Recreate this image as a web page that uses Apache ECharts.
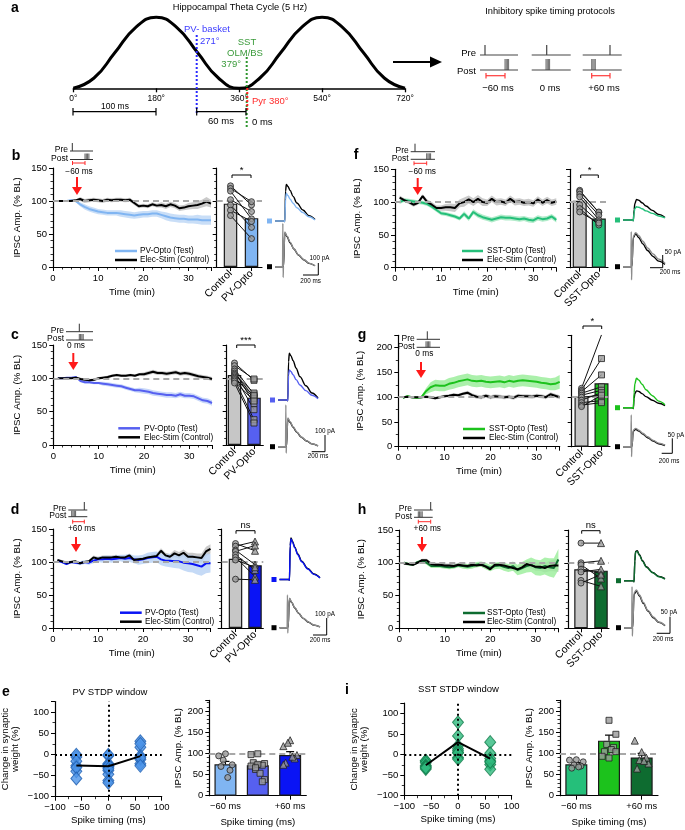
<!DOCTYPE html>
<html><head><meta charset="utf-8">
<script src="https://cdn.jsdelivr.net/npm/echarts@6.0.0/dist/echarts.min.js"></script>
<style>html,body{margin:0;padding:0;background:#fff;}#chart{width:685px;height:830px;}</style>
</head><body><div id="chart"></div>
<script>
// ================= DATA =================
const timeMin = [1,2,3,4,5,6,7,8,9,10,11,12,13,14,15,16,17,18,19,20,21,22,23,24,25,26,27,28,29,30,31,32,33,34,35];

const bTest    = [100,100,100,101,100,95,91,88,86,84,83,82,82,82,81,80,79,78,79,80,80,81,81,79,77,75,74,73,73,72,72,72,71,71,71];
const bTestSem = [1,1,1,1,2,3,4,4,4,4,4,4,4,4,5,5,5,5,5,5,5,5,5,5,6,6,6,6,6,6,6,7,7,7,7];
const bCtl     = [100,100,100,100,101,103,100,101,102,101,100,102,101,102,102,101,102,97,92,93,92,95,93,94,92,95,93,89,90,92,93,94,96,99,96];
const bCtlSem  = [1,1,1,1,1,3,3,3,3,3,3,3,3,3,3,3,3,3,3,3,3,3,3,4,4,4,4,4,4,5,5,6,6,7,6];

const cTest    = [100,100,101,101,102,96,94,94,93,93,92,91,90,89,88,86,84,82,82,81,80,78,77,76,75,75,74,76,74,74,73,70,67,66,63];
const cTestSem = [1,1,1,1,1,2,2,2,2,2,3,3,3,3,3,3,3,3,4,4,4,4,4,4,4,4,4,4,4,4,4,4,4,4,4];
const cCtl     = [100,100,100,100,101,99,98,97,98,100,101,102,104,105,104,104,105,104,106,106,108,110,108,108,107,108,109,107,108,107,105,103,102,101,99];
const cCtlSem  = [1,1,1,1,1,2,2,2,2,2,2,2,2,2,2,2,2,2,2,3,3,3,3,3,3,3,3,3,3,3,3,3,3,3,3];

const dTest    = [102,100,97,100,99,98,100,99,102,104,104,105,104,105,106,105,106,104,103,104,106,107,108,104,102,102,101,101,99,98,97,95,93,98,98];
const dTestSem = [2,2,2,2,2,3,3,3,4,4,5,5,5,5,5,6,6,6,7,7,8,8,8,9,9,10,10,11,12,13,13,14,14,15,14];
const dCtl     = [103,101,99,100,101,98,100,101,107,105,107,107,107,108,107,107,110,103,104,105,107,108,109,117,110,108,113,110,114,108,108,107,106,116,120];
const dCtlSem  = [2,2,2,2,2,2,2,2,3,3,3,3,3,3,3,3,3,3,3,3,3,4,4,4,4,4,5,5,5,6,6,6,7,7,7];

const fTest    = [100,103,102,101,100,99,97,93,88,83,82,80,78,75,82,75,85,80,77,75,73,75,77,76,76,75,74,75,73,72,76,74,75,78,73];
const fTestSem = [3,3,3,3,3,3,3,3,3,3,3,3,3,3,4,4,4,4,4,4,4,4,4,4,4,4,4,4,4,4,4,4,4,4,4];
const fCtl     = [107,103,100,96,99,109,100,96,91,91,92,92,91,98,100,104,100,105,100,99,105,100,101,99,105,100,101,99,100,98,104,99,103,99,101];
const fCtlSem  = [3,3,3,3,3,3,4,4,4,4,5,6,6,6,7,6,6,6,6,5,5,5,5,5,5,5,5,5,5,5,5,5,5,5,5];

const gTest    = [99,102,100,99,100,112,120,124,123,123,127,129,132,134,136,133,132,133,131,130,131,132,130,133,131,133,134,133,132,131,129,128,126,127,131];
const gTestSem = [2,2,2,2,2,6,10,11,11,11,12,12,12,12,12,12,12,12,12,12,12,12,12,12,12,12,12,12,12,12,12,12,12,13,14];
const gCtl     = [100,101,100,100,100,101,100,98,100,102,103,105,104,107,109,104,101,100,103,100,102,101,100,101,99,103,102,102,101,103,102,100,106,103,100];
const gCtlSem  = [2,2,2,2,2,3,3,3,3,3,3,3,3,3,4,4,4,4,4,4,4,4,4,4,4,4,4,4,4,4,4,4,4,4,4];

const hTest    = [100,98,97,101,103,100,95,95,95,94,93,94,96,95,94,95,97,98,95,92,95,96,94,92,95,89,92,95,97,93,92,95,93,92,105];
const hTestSem = [2,2,2,2,2,3,3,3,3,3,3,3,3,4,4,4,4,4,5,5,5,5,6,6,7,8,9,10,11,12,12,13,14,15,16];
const hCtl     = [99,98,97,100,104,104,98,97,97,96,96,95,97,96,95,97,96,97,94,90,97,97,96,94,92,90,93,98,96,94,94,92,95,96,96];
const hCtlSem  = [2,2,2,2,2,2,3,3,3,3,3,3,3,3,3,3,3,3,3,3,3,3,3,3,4,4,4,5,5,6,6,7,8,9,10];

// paired cell values (% BL) and bar heights
const bBars = [96,74];  const bCtlPts = [123,119,115,102,94,86,78];  const bOptoPts = [94,99,73,84,60,69,43];
const cBars = [105,71]; const cCtlPts = [123,119,114,111,108,106,104,102,100,98,96,93]; const cOptoPts = [97,99,76,62,72,78,53,70,74,38,66,33];
const dBars = [105,95]; const dCtlPts = [128,124,118,116,111,107,103,74]; const dOptoPts = [117,131,96,125,88,78,92,73];
const fBars = [102,75]; const fCtlPts = [118,116,112,108,96,90,85]; const fOptoPts = [84,85,80,73,70,65,68];
const gBars = [101,128]; const gCtlPts = [118,114,111,108,104,100,94,89,84,81]; const gOptoPts = [226,178,145,121,114,104,109,93,89,104];
const hBars = [90,88];  const hCtlPts = [130,100,97,90,86,73,69]; const hOptoPts = [130,103,76,84,90,64,82];

// STDP summary
const stdpTiming = [-60,0,60];
const stdpLabels = ['\u221260 ms','0 ms','+60 ms'];
const eBars = [74,72,96]; const eSem = [7,6,8];
const iBars = [74,130,90]; const iSem = [4,13,10];

// theta cycle schematic
const thetaDeg = [0,45,90,135,180,225,270,315,360,405,450,495,540,585,630,675,720];
const thetaAmp = [-1,-0.71,0,0.71,1,0.71,0,-0.71,-1,-0.71,0,0.71,1,0.71,0,-0.71,-1];

// example IPSC traces (ms, pA)
const traceTopT = [0,120,130,140,150,170,200,240,290,370,450,530];
const traceBotT = [0,100,104,108,112,130,160,200,250,310,380,450,530];
const bTopCtl=[0,0,-5,250,305,290,255,205,150,92,45,12], bTopTest=[0,0,-5,180,230,212,182,148,110,70,35,8];
const bBotGrey=[0,0,360,-90,0,290,255,205,150,100,60,30,8], bBotBlack=[0,0,0,0,0,282,250,200,148,98,58,28,8];
const cTopCtl=[0,0,-5,230,280,266,236,190,140,85,42,12], cTopTest=[0,0,-5,150,180,171,151,122,90,56,28,8];
const cBotGrey=[0,0,250,-38,0,172,150,120,88,58,35,18,5], cBotBlack=[0,0,0,0,0,166,146,116,86,56,34,17,5];
const dTopCtl=[0,0,-5,200,245,226,190,150,108,65,32,10], dTopTest=[0,0,-5,195,238,220,186,146,104,62,30,9];
const dBotGrey=[0,0,193,-31,0,173,150,118,86,56,33,16,5], dBotBlack=[0,0,0,0,0,170,148,116,85,55,32,15,5];
const fTopCtl=[0,0,-3,40,65,81,78,68,55,38,22,10], fTopTest=[0,0,-3,30,45,52,50,44,36,26,16,8];
const fBotGrey=[0,0,138,-52,0,120,134,122,100,74,50,30,14], fBotBlack=[0,0,0,0,0,114,130,114,90,64,40,22,9];
const gTopCtl=[0,0,-3,30,48,56,54,47,37,25,15,7], gTopTest=[0,0,-3,50,80,98,92,78,60,40,22,10];
const gBotGrey=[0,0,106,-33,0,55,61,55,45,33,21,12,5], gBotBlack=[0,0,0,0,0,52,58,52,42,30,19,10,4];
const hTopCtl=[0,0,-3,60,88,90,78,60,42,25,13,6], hTopTest=[0,0,-3,58,86,88,76,58,40,24,12,5];
const hBotGrey=[0,0,123,-25,0,105,113,98,76,52,32,17,7], hBotBlack=[0,0,0,0,0,100,110,95,73,50,30,16,6];

// ================= LAYOUT / STYLE =================
const FONT = '"Liberation Sans", Arial, Helvetica, sans-serif';
const LAY = {
  b:{x0:53,x35:211,yTop:168,y0:267,ymax:150,ng:31, bar:{ax:216.7,c0:230.5,c1:251.5,end:262,w:13.5}, tr:{x0:275,x1:315,top:221,bot:266.7,k:0.12}},
  c:{x0:53.3,x35:212,yTop:345,y0:445,ymax:150,ng:31, bar:{ax:226.7,c0:234.5,c1:254,end:263.3,w:13.5}, tr:{x0:278,x1:318,top:400,bot:446.7,k:0.167}},
  d:{x0:53,x35:210.5,yTop:529,y0:628,ymax:150,ng:31, bar:{ax:221.7,c0:235.5,c1:255,end:263.3,w:13.5}, tr:{x0:279.5,x1:320,top:579.5,bot:627.7,k:0.17}},
  f:{x0:395,x35:556.3,yTop:169.3,y0:267.7,ymax:150,ng:33, bar:{ax:570,c0:579.7,c1:598.8,end:608,w:14}, tr:{x0:623,x1:665,top:220,bot:266.7,k:0.254}},
  g:{x0:398.3,x35:559.7,yTop:335.3,y0:446.7,ymax:225,ng:33, bar:{ax:571.7,c0:581.5,c1:601.5,end:610,w:14}, tr:{x0:623,x1:665,top:407.7,bot:446.7,k:0.3}},
  h:{x0:399.3,x35:558.4,yTop:530,y0:628.3,ymax:150,ng:33, bar:{ax:568.3,c0:581,c1:601,end:609,w:13.5}, tr:{x0:624,x1:665,top:580.7,bot:627.7,k:0.333}}
};

const grids=[], xAxes=[], yAxes=[], series=[], graphics=[];
function deepMerge(a,b){for(const k in b){const v=b[k];if(v&&typeof v==='object'&&!Array.isArray(v)){a[k]=deepMerge(a[k]&&typeof a[k]==='object'?a[k]:{},v);}else a[k]=v;}return a;}
const AX = {
  axisLine:{show:true,onZero:false,lineStyle:{color:'#000',width:1.2}},
  axisTick:{show:true,length:4,lineStyle:{color:'#000',width:1}},
  minorTick:{show:true,length:2.5,lineStyle:{color:'#000',width:0.8}},
  axisLabel:{color:'#000',fontSize:9.5,fontFamily:FONT,margin:6},
  splitLine:{show:false}, minorSplitLine:{show:false},
  nameTextStyle:{color:'#000',fontSize:9.7,fontFamily:FONT}
};
function ax(extra){return deepMerge(JSON.parse(JSON.stringify(AX)),extra);}
function addGrid(left,top,width,height){grids.push({left,top,width,height,containLabel:false,outerBoundsMode:'none'});return grids.length-1;}
function addX(o){xAxes.push(o);return xAxes.length-1;}
function addY(o){yAxes.push(o);return yAxes.length-1;}
function hiddenAx(gi,min,max){return {type:'value',gridIndex:gi,min,max,show:false,splitLine:{show:false}};}
const minus = v => String(v).replace('-','\u2212');
const dash100 = {silent:true,symbol:'none',label:{show:false},lineStyle:{color:'#a8a8a8',type:[6,4],width:1.8},data:[{yAxis:100}]};

// ---------- graphics helpers ----------
function gText(x,y,text,size,o={}){graphics.push({type:'text',x,y,z:100,silent:true,style:{text,fill:o.color||'#000',font:(o.bold?'bold ':'')+size+'px '+FONT,textAlign:o.align||'center',textVerticalAlign:'middle'}});}
function gLine(x1,y1,x2,y2,color,w,dash){graphics.push({type:'line',z:100,silent:true,shape:{x1,y1,x2,y2},style:{stroke:color||'#000',lineWidth:w||1,lineDash:dash||null}});}
function gPoly(points,color){graphics.push({type:'polygon',z:100,silent:true,shape:{points},style:{fill:color}});}
function gRect(x,y,w,h,color){graphics.push({type:'rect',z:100,silent:true,shape:{x,y,width:w,height:h},style:{fill:color}});}
function arrowDown(x,y1,y2){gLine(x,y1,x,y2-6,'#ff1a1a',2);gPoly([[x-5,y2-8],[x+5,y2-8],[x,y2]],'#ff1a1a');}
function sig(x1,x2,y,label){gLine(x1,y,x2,y,'#000',1);gLine(x1,y,x1,y+3,'#000',1);gLine(x2,y,x2,y+3,'#000',1);gText((x1+x2)/2,y-5,label,9.5);}
function legend(x0,x1,y1,y2,tx,name,color){gLine(x0,y1,x1,y1,color,2.5);gText(tx,y1,name,8.2,{align:'left'});gLine(x0,y2,x1,y2,'#000',2.5);gText(tx,y2,'Elec-Stim (Control)',8.2,{align:'left'});}
function mini(o){
  gText(o.lx0-2,o.preY-1,'Pre',8.5,{align:'right'});
  gText(o.lx0-2,o.postY-1,'Post',8.5,{align:'right'});
  gLine(o.lx0,o.preY,o.lx1,o.preY,'#333',1);
  gLine(o.lx0,o.postY,o.lx1,o.postY,'#333',1);
  gLine(o.preX,o.preY-8,o.preX,o.preY,'#333',1);
  for(let k=0;k<4;k++) gLine(o.postX+k*1.3,o.postY-6,o.postX+k*1.3,o.postY,'#333',0.8);
  if(o.red){gLine(o.red[0],o.redY,o.red[1],o.redY,'#ff2a2a',1);gLine(o.red[0],o.redY-2,o.red[0],o.redY+2,'#ff2a2a',1);gLine(o.red[1],o.redY-2,o.red[1],o.redY+2,'#ff2a2a',1);}
  gText(o.labX,o.labY,o.label,8.3);
}
function scaleBar(cx,cy,vTop,hLeft,vl,vlx,vly,hlx,hly){gLine(cx,vTop,cx,cy,'#000',1);gLine(hLeft,cy,cx,cy,'#000',1);gText(vlx,vly,vl,6.3);gText(hlx,hly,'200 ms',6.3);}

// ---------- chart builders ----------
function tcPanel(key,test,testSem,ctl,ctlSem,testColor,bandColor){
  const p=LAY[key];
  const gi=addGrid(p.x0,p.yTop,p.x35-p.x0,p.y0-p.yTop);
  const xi=addX(ax({type:'value',gridIndex:gi,min:0,max:35,interval:10,name:'Time (min)',nameLocation:'middle',nameGap:20,axisLabel:{showMaxLabel:false},minorTick:{splitNumber:5}}));
  const yi=addY(ax({type:'value',gridIndex:gi,min:0,max:p.ymax,interval:50,name:'IPSC Amp. (% BL)',nameLocation:'middle',nameGap:p.ng,axisLabel:{showMaxLabel:p.ymax===150},minorTick:{splitNumber:p.ymax===150?5:2}}));
  const base={type:'line',xAxisIndex:xi,yAxisIndex:yi,symbol:'none',silent:true};
  function band(mean,sem,color){
    const n=mean.length;
    series.push({type:'custom',xAxisIndex:xi,yAxisIndex:yi,silent:true,z:1,encode:{x:0,y:[1,2]},
      data:timeMin.map((t,i)=>[t,mean[i]-sem[i],mean[i]+sem[i]]),
      renderItem:(params,api)=>{
        if(params.dataIndexInside!==0) return null;
        const up=[],lo=[];
        for(let j=0;j<n;j++){up.push(api.coord([api.value(0,j),api.value(2,j)]));lo.push(api.coord([api.value(0,j),api.value(1,j)]));}
        return {type:'polygon',shape:{points:up.concat(lo.reverse())},style:{fill:color,opacity:0.8}};
      }});
  }
  band(ctl,ctlSem,'#bdbdbd');
  band(test,testSem,bandColor);
  series.push(Object.assign({},base,{data:[],markLine:dash100,z:2}));
  series.push(Object.assign({},base,{data:timeMin.map((t,i)=>[t,test[i]]),lineStyle:{color:testColor,width:2},z:3}));
  series.push(Object.assign({},base,{data:timeMin.map((t,i)=>[t,ctl[i]]),lineStyle:{color:'#000',width:2},z:4}));
}
function barPanel(key,bars,ctlPts,optoPts,optoName,optoColor,optoSym){
  const p=LAY[key],b=p.bar,u=b.c1-b.c0;
  const gi=addGrid(b.ax,p.yTop,b.end-b.ax,p.y0-p.yTop);
  const xi=addX(ax({type:'value',gridIndex:gi,min:(b.ax-b.c0)/u,max:(b.end-b.c0)/u,axisTick:{customValues:[0,1]},minorTick:{show:false},axisLabel:{customValues:[0,1],rotate:45,margin:5,fontSize:10.5,formatter:v=>v===0?'Control':optoName}}));
  const yi=addY(ax({type:'value',gridIndex:gi,min:0,max:p.ymax,interval:50,axisLabel:{show:false},minorTick:{splitNumber:p.ymax===150?5:2}}));
  series.push({type:'bar',xAxisIndex:xi,yAxisIndex:yi,barWidth:b.w,silent:true,data:[{value:[0,bars[0]],itemStyle:{color:'#c6c6c6'}},{value:[1,bars[1]],itemStyle:{color:optoColor}}],itemStyle:{borderColor:'#1a1a1a',borderWidth:1.2},z:2});
  series.push({type:'line',xAxisIndex:xi,yAxisIndex:yi,data:[],symbol:'none',markLine:dash100,z:3});
  ctlPts.forEach((v,i)=>series.push({type:'line',xAxisIndex:xi,yAxisIndex:yi,symbol:'none',silent:true,data:[[0,v],[1,optoPts[i]]],lineStyle:{color:'#111',width:1},z:5}));
  series.push({type:'scatter',xAxisIndex:xi,yAxisIndex:yi,silent:true,symbol:'circle',symbolSize:6,data:ctlPts.map(v=>[0,v]),itemStyle:{color:'#9a9a9a',borderColor:'#222',borderWidth:1},z:6});
  series.push({type:'scatter',xAxisIndex:xi,yAxisIndex:yi,silent:true,symbol:optoSym,symbolSize:optoSym==='triangle'?7:6,data:optoPts.map(v=>[1,v]),itemStyle:{color:'#9a9a9a',borderColor:'#222',borderWidth:1},z:6});
}
function traceGrid(x0,x1,baseY,k,T,arrs,colors){
  const all=[].concat(...arrs);const mn=Math.min(0,...all),mx=Math.max(...all);
  const gi=addGrid(x0,baseY-mx*k,x1-x0,(mx-mn)*k);
  const xi=addX(hiddenAx(gi,0,T[T.length-1]));const yi=addY(hiddenAx(gi,mn,mx));
  arrs.forEach((a,j)=>series.push({type:'line',xAxisIndex:xi,yAxisIndex:yi,symbol:'none',silent:true,clip:false,smooth:0.35,smoothMonotone:'x',data:T.map((t,i)=>[t,a[i]]),lineStyle:{color:colors[j],width:1.4},z:3}));
}
function traces(key,topCtl,topTest,botGrey,botBlack,testColor){
  const t=LAY[key].tr;
  traceGrid(t.x0,t.x1,t.top,t.k,traceTopT,[topCtl,topTest],['#000',testColor]);
  traceGrid(t.x0,t.x1,t.bot,t.k,traceBotT,[botBlack,botGrey],['#000','#8c8c8c']);
  gRect(t.x0-8,t.top-2.5,5,5,testColor);gRect(t.x0-8,t.bot-2.5,5,5,'#000');
}
function stdpScatter(g,groups,bars,color,border){
  const gi=addGrid(g.left,g.top,g.w,g.h);
  const xi=addX(ax({type:'value',gridIndex:gi,min:-100,max:100,interval:50,name:'Spike timing (ms)',nameLocation:'middle',nameGap:19,minorTick:{splitNumber:2},axisLabel:{formatter:minus}}));
  const yi=addY(ax({type:'value',gridIndex:gi,min:-100,max:125,interval:50,name:'Change in synaptic\nweight (%)',nameLocation:'middle',nameGap:g.ng,minorTick:{splitNumber:2},axisLabel:{showMaxLabel:false,formatter:minus}}));
  series.push({type:'line',xAxisIndex:xi,yAxisIndex:yi,data:[],symbol:'none',z:2,markLine:{silent:true,symbol:'none',label:{show:false},lineStyle:{color:'#000',type:[2,3],width:2},data:[{yAxis:0},{xAxis:0}]}});
  const pts=[];groups.forEach((arr,k)=>arr.forEach(v=>pts.push([stdpTiming[k],v-100])));
  series.push({type:'scatter',xAxisIndex:xi,yAxisIndex:yi,silent:true,symbol:'diamond',symbolSize:[11,13],data:pts,itemStyle:{color,borderColor:border,borderWidth:1},z:4});
  series.push({type:'line',xAxisIndex:xi,yAxisIndex:yi,silent:true,symbol:'none',data:bars.map((b,k)=>[stdpTiming[k],b-100]),lineStyle:{color:'#000',width:2},z:5});
}
function stdpBars(g,bars,sems,groups,colors){
  const gi=addGrid(g.left,g.top,g.w,g.h);
  const xc=addX(ax({type:'category',gridIndex:gi,data:stdpLabels,name:'Spike timing (ms)',nameLocation:'middle',nameGap:22,axisTick:{alignWithLabel:true},minorTick:{show:false},axisLabel:{fontSize:9.3}}));
  const xv=addX(hiddenAx(gi,-0.5,2.5));
  const yi=addY(ax({type:'value',gridIndex:gi,min:0,max:225,interval:50,name:'IPSC Amp. (% BL)',nameLocation:'middle',nameGap:g.ng,axisLabel:{showMaxLabel:false},minorTick:{splitNumber:5}}));
  series.push({type:'bar',xAxisIndex:xc,yAxisIndex:yi,barWidth:22,silent:true,data:bars.map((v,k)=>({value:v,itemStyle:{color:colors[k]}})),itemStyle:{borderColor:'#1a1a1a',borderWidth:1.2},z:2});
  series.push({type:'line',xAxisIndex:xv,yAxisIndex:yi,data:[],symbol:'none',markLine:dash100,z:3});
  series.push({type:'custom',xAxisIndex:xv,yAxisIndex:yi,silent:true,z:4,data:bars.map((b,k)=>[k,b,b+sems[k]]),
    renderItem:(params,api)=>{const x=api.value(0);const lo=api.coord([x,api.value(1)]),hi=api.coord([x,api.value(2)]);
      return {type:'group',children:[{type:'line',shape:{x1:lo[0],y1:lo[1],x2:hi[0],y2:hi[1]},style:{stroke:'#000',lineWidth:1.2}},{type:'line',shape:{x1:hi[0]-4,y1:hi[1],x2:hi[0]+4,y2:hi[1]},style:{stroke:'#000',lineWidth:1.2}}]};}});
  const syms=['circle','rect','triangle'];
  groups.forEach((arr,k)=>series.push({type:'scatter',xAxisIndex:xv,yAxisIndex:yi,silent:true,symbol:syms[k],symbolSize:k===2?7:6,
    data:arr.map((v,i)=>[k+(((i*3)%7)-3)*0.07,v]),itemStyle:{color:'#9a9a9a',borderColor:'#222',borderWidth:1},z:5}));
}

// ================= PANEL a =================
gText(15,8,'a',14,{bold:true});
gText(240,7,'Hippocampal Theta Cycle (5 Hz)',9.3);
{
  const gi=addGrid(73.3,17.3,331.7,71);
  const xi=addX(ax({type:'value',gridIndex:gi,min:0,max:720,interval:180,minorTick:{show:false},axisLine:{lineStyle:{width:1.5}},axisTick:{length:4,lineStyle:{width:1.3}},axisLabel:{fontSize:8.5,margin:6,formatter:v=>v+'\u00b0'}}));
  const yi=addY(hiddenAx(gi,-1,1));
  series.push({type:'line',xAxisIndex:xi,yAxisIndex:yi,symbol:'none',silent:true,clip:false,smooth:0.5,data:thetaDeg.map((d,i)=>[d,thetaAmp[i]]),lineStyle:{color:'#000',width:3},z:3});
}
gLine(196.7,35,196.7,113,'#2a2aff',2,[2,2]);
gText(184,29,'PV- basket',9.5,{align:'left',color:'#3b3bff'});
gText(200,41,'271\u00b0',9.5,{align:'left',color:'#3b3bff'});
gLine(246.7,57,246.7,127,'#2e962e',2,[2,2]);
gText(247,42,'SST',9.5,{color:'#3a9a3a'});
gText(245,53,'OLM/BS',9.5,{color:'#3a9a3a'});
gText(241,64,'379\u00b0',9.5,{align:'right',color:'#3a9a3a'});
gLine(247.3,88,247.3,110,'#ff2020',2,[2,2]);
gText(252,101,'Pyr 380\u00b0',9.5,{align:'left',color:'#ff2b2b'});
gText(252,122,'0 ms',9.5,{align:'left'});
gLine(73,111.7,156,111.7,'#000',1.2);gLine(73,108,73,115.5,'#000',1.2);gLine(156,108,156,115.5,'#000',1.2);
gText(115,106.5,'100 ms',8.5);
gLine(196.7,111.7,246,111.7,'#000',1.2);gLine(196.7,108,196.7,115.5,'#000',1.2);gLine(246,108,246,115.5,'#000',1.2);
gText(221,121,'60 ms',9.5);
gLine(393,62,432,62,'#000',2.2);gPoly([[430,56.5],[442,62],[430,67.5]],'#000');
gText(550,11,'Inhibitory spike timing protocols',9.3);
gText(476,53,'Pre',9.5,{align:'right'});gText(476,71,'Post',9.5,{align:'right'});
[[480,518,485,505,[486,505],498,'\u221260 ms'],[531.7,570.7,546.7,546,null,550,'0 ms'],[582.7,621.7,610,591.7,[591.7,610],604,'+60 ms']].forEach(s=>{
  gLine(s[0],55,s[1],55,'#444',1.2);gLine(s[0],70,s[1],70,'#444',1.2);
  gLine(s[2],45,s[2],55,'#444',1.2);
  for(let k=0;k<4;k++)gLine(s[3]+k*1.2,59,s[3]+k*1.2,70,'#444',0.8);
  if(s[4]){gLine(s[4][0],75.7,s[4][1],75.7,'#ff3a3a',1.2);gLine(s[4][0],73,s[4][0],78.5,'#ff3a3a',1.2);gLine(s[4][1],73,s[4][1],78.5,'#ff3a3a',1.2);}
  gText(s[5],88,s[6],9.5);
});

// ================= PANELS b-d, f-h =================
const PV1='#80b5f2', PV2='#5660f0', PV3='#0a14f5', SST1='#25bf7a', SST2='#1cc21c', SST3='#0e6c30';
tcPanel('b',bTest,bTestSem,bCtl,bCtlSem,PV1,'#bcd6f5');
tcPanel('c',cTest,cTestSem,cCtl,cCtlSem,PV2,'#bccef7');
tcPanel('d',dTest,dTestSem,dCtl,dCtlSem,PV3,'#b6d1f4');
tcPanel('f',fTest,fTestSem,fCtl,fCtlSem,SST1,'#9fe6bd');
tcPanel('g',gTest,gTestSem,gCtl,gCtlSem,SST2,'#96ec96');
tcPanel('h',hTest,hTestSem,hCtl,hCtlSem,SST3,'#98ee98');
barPanel('b',bBars,bCtlPts,bOptoPts,'PV-Opto',PV1,'circle');
barPanel('c',cBars,cCtlPts,cOptoPts,'PV-Opto',PV2,'rect');
barPanel('d',dBars,dCtlPts,dOptoPts,'PV-Opto',PV3,'triangle');
barPanel('f',fBars,fCtlPts,fOptoPts,'SST-Opto',SST1,'circle');
barPanel('g',gBars,gCtlPts,gOptoPts,'SST-Opto',SST2,'rect');
barPanel('h',hBars,hCtlPts,hOptoPts,'SST-Opto',SST3,'triangle');
traces('b',bTopCtl,bTopTest,bBotGrey,bBotBlack,PV1);
traces('c',cTopCtl,cTopTest,cBotGrey,cBotBlack,PV2);
traces('d',dTopCtl,dTopTest,dBotGrey,dBotBlack,PV3);
traces('f',fTopCtl,fTopTest,fBotGrey,fBotBlack,SST1);
traces('g',gTopCtl,gTopTest,gBotGrey,gBotBlack,SST2);
traces('h',hTopCtl,hTopTest,hBotGrey,hBotBlack,SST3);

gText(16,156,'b',14,{bold:true}); gText(15,335,'c',14,{bold:true}); gText(15,510,'d',14,{bold:true});
gText(356,155,'f',14,{bold:true}); gText(362,335,'g',14,{bold:true}); gText(362,510,'h',14,{bold:true});
gText(6,692,'e',14,{bold:true}); gText(347,690,'i',14,{bold:true});

mini({lx0:70,lx1:93,preY:151,postY:159.5,preX:72.3,postX:85,red:[72.5,85],redY:163,label:'\u221260 ms',labX:79,labY:172});
mini({lx0:66,lx1:93,preY:331.7,postY:340,preX:79.3,postX:79.3,label:'0 ms',labX:76,labY:345.5});
mini({lx0:68.3,lx1:87.3,preY:510,postY:516.7,preX:84.3,postX:71.7,red:[72.7,84.3],redY:521.7,label:'+60 ms',labX:81.7,labY:528.3});
mini({lx0:410.7,lx1:435,preY:151.7,postY:159.3,preX:415,postX:426.7,red:[414,426.7],redY:163.3,label:'\u221260 ms',labX:422.3,labY:171.7});
mini({lx0:416.7,lx1:440,preY:339.3,postY:347.3,preX:427.3,postX:426,label:'0 ms',labX:424.3,labY:353.3});
mini({lx0:414,lx1:432.7,preY:510,postY:517.3,preX:430.7,postX:418.3,red:[418.3,430.7],redY:521.7,label:'+60 ms',labX:427.3,labY:528.3});

arrowDown(77,177,195); arrowDown(73.3,353,370); arrowDown(76,537,552);
arrowDown(417.7,178,195); arrowDown(421,362,378); arrowDown(422,537,552);

legend(115,137,251,260,140,'PV-Opto (Test)',PV1);
legend(118.3,140,428.3,437.3,144,'PV-Opto (Test)',PV2);
legend(120,141.7,612.7,621.7,145,'PV-Opto (Test)',PV3);
legend(462,483,251,260,487,'SST-Opto (Test)',SST1);
legend(463,485,429,438,489,'SST-Opto (Test)',SST2);
legend(463,485,613,622,487,'SST-Opto (Test)',SST3);

sig(232,251,175,'*'); sig(236.7,255,345,'***'); sig(236,255,530.7,'ns');
sig(580.7,598.3,175,'*'); sig(583,601.7,326,'*'); sig(581.7,600,530.7,'ns');

scaleBar(318.3,275,263,303,'100 pA',319.5,258,310.5,281);
scaleBar(325,451.7,435,311.7,'100 pA',325,431,318,456);
scaleBar(326.7,635,618,313,'100 pA',325,614,320,640);
scaleBar(662.7,267.7,255,650,'50 pA',673,252,670,272.5);
scaleBar(672.3,453.3,438.3,661.7,'50 pA',676,435,669,461);
scaleBar(670,633.3,616.7,656.7,'50 pA',669,612,663,639);

// ================= PANELS e, i =================
gText(110,692,'PV STDP window',9.5);
gText(458.5,689,'SST STDP window',9.5);
stdpScatter({left:55,top:701.5,w:106.7,h:95.2,ng:35},[bOptoPts,cOptoPts,dOptoPts],eBars,'#4b93e8','#1f5fb0');
stdpBars({left:209.3,top:700.4,w:97,h:95.3,ng:26},eBars,eSem,[bOptoPts,cOptoPts,dOptoPts],[PV1,PV2,PV3]);
stdpScatter({left:404.3,top:703,w:107.4,h:92.7,ng:35},[fOptoPts,gOptoPts,hOptoPts],iBars,'#2fba7e','#127a4a');
stdpBars({left:560,top:700.4,w:98,h:95.3,ng:26},iBars,iSem,[fOptoPts,gOptoPts,hOptoPts],[SST1,SST2,SST3]);

// ================= RENDER =================
const chart = echarts.init(document.getElementById('chart'),null,{renderer:'canvas'});
chart.setOption({animation:false,backgroundColor:'#fff',textStyle:{fontFamily:FONT},grid:grids,xAxis:xAxes,yAxis:yAxes,series,graphic:{elements:graphics}});
</script></body></html>
